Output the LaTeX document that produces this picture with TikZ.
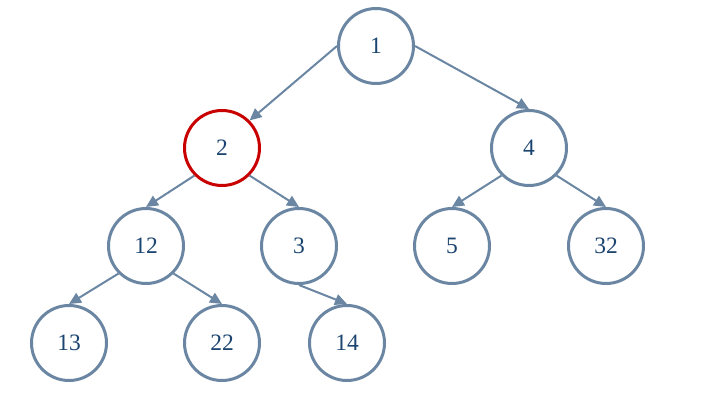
\documentclass[tikz,border=0pt]{standalone}
\usepackage{fontspec}
\setmainfont{Liberation Serif}
\usetikzlibrary{arrows.meta}
\definecolor{edgecol}{HTML}{6A86A3}
\definecolor{txtcol}{HTML}{1B4470}
\definecolor{redcol}{HTML}{C80000}
\begin{document}
\begin{tikzpicture}[x=1pt,y=-1pt,
  vert/.style={circle,draw=edgecol,line width=3pt,minimum size=75pt,inner sep=0pt,text=txtcol,font=\fontsize{23.5}{28}\selectfont,fill=white},
  hot/.style={vert,draw=redcol},
  edge/.style={draw=edgecol,line width=2pt,-{Triangle[length=12pt,width=11pt]}}]
\useasboundingbox (0,0) rectangle (709,404);
\node[vert] (n1) at (376,46) {1};
\node[hot] (n2) at (222,148) {2};
\node[vert] (n4) at (529,148) {4};
\node[vert] (n12) at (146,246) {12};
\node[vert] (n3) at (299,246) {3};
\node[vert] (n5) at (452,246) {5};
\node[vert] (n32) at (606,246) {32};
\node[vert] (n13) at (69,343) {13};
\node[vert] (n22) at (222,343) {22};
\node[vert] (n14) at (347,343) {14};
\draw[edge] (n1.west) -- (n2.north east);
\draw[edge] (n1.east) -- (n4.north);
\draw[edge] (n2.south west) -- (n12.north);
\draw[edge] (n2.south east) -- (n3.north);
\draw[edge] (n4.south west) -- (n5.north);
\draw[edge] (n4.south east) -- (n32.north);
\draw[edge] (n12.south west) -- (n13.north);
\draw[edge] (n12.south east) -- (n22.north);
\draw[edge] (n3.south) -- (n14.north);
\end{tikzpicture}
\end{document}
